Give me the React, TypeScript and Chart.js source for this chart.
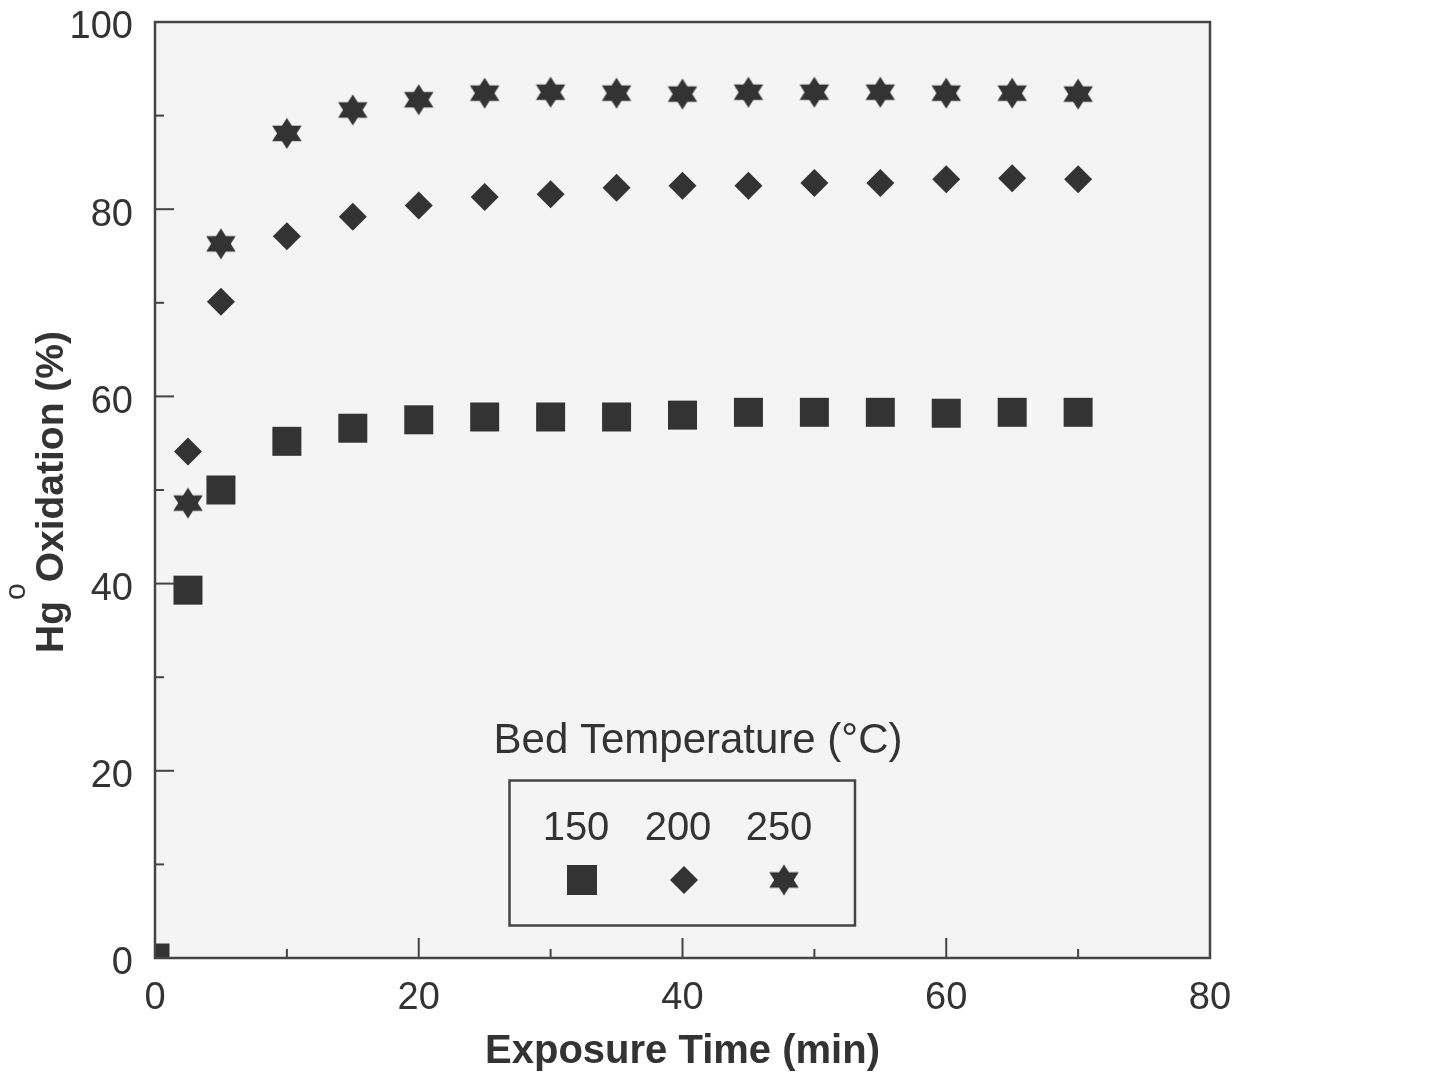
import React, { useEffect, useRef } from 'react';
import { Chart, registerables } from 'chart.js';

Chart.register(...registerables);

// ---- data ----
const timeMin = [2.5, 5, 10, 15, 20, 25, 30, 35, 40, 45, 50, 55, 60, 65, 70];
const ox150 = [39.3, 50.0, 55.2, 56.6, 57.5, 57.8, 57.8, 57.8, 58.0, 58.3, 58.3, 58.3, 58.2, 58.3, 58.3];
const ox200 = [54.1, 70.1, 77.1, 79.2, 80.4, 81.3, 81.6, 82.3, 82.5, 82.5, 82.8, 82.8, 83.2, 83.3, 83.2];
const ox250 = [48.6, 76.3, 88.1, 90.6, 91.7, 92.4, 92.5, 92.4, 92.3, 92.5, 92.5, 92.5, 92.4, 92.4, 92.3];
const start150 = { x: 0, y: 0 };
const seriesLabels = ['150', '200', '250'];
const legendTitle = 'Bed Temperature (°C)';
const xTitle = 'Exposure Time (min)';
const yTitleParts = ['Hg', 'o', 'Oxidation (%)'];
const xTickLabels = [0, 20, 40, 60, 80];
const yTickLabels = [0, 20, 40, 60, 80, 100];

// ---- style ----
const MARK = '#333333';
const AXIS = '#444444';
const TEXT = '#333333';
const FONT = '"Liberation Sans", Arial, Helvetica, sans-serif';

function makeStar(rx: number, ry: number): HTMLCanvasElement {
  const c = document.createElement('canvas');
  const w = Math.ceil(rx * 2) + 2;
  const h = Math.ceil(ry * 2) + 2;
  c.width = w;
  c.height = h;
  const ctx = c.getContext('2d')!;
  ctx.fillStyle = MARK;
  const cx = w / 2;
  const cy = h / 2;
  for (const s of [-90, 90]) {
    ctx.beginPath();
    for (let k = 0; k < 3; k++) {
      const a = ((s + k * 120) * Math.PI) / 180;
      const px = cx + rx * Math.cos(a);
      const py = cy + ry * Math.sin(a);
      if (k === 0) ctx.moveTo(px, py);
      else ctx.lineTo(px, py);
    }
    ctx.closePath();
    ctx.fill();
  }
  return c;
}

export default function App() {
  const ref = useRef<HTMLCanvasElement | null>(null);

  useEffect(() => {
    const canvas = ref.current;
    if (!canvas) return;
    const star = makeStar(17, 15.5);

    const decor = {
      id: 'decor',
      beforeDatasetsDraw(chart: any) {
        const { ctx, chartArea: a } = chart;
        ctx.save();
        ctx.fillStyle = '#f4f4f4';
        ctx.fillRect(a.left, a.top, a.right - a.left, a.bottom - a.top);
        ctx.restore();
      },
      afterDraw(chart: any) {
        const { ctx, chartArea: a } = chart;
        const xs = chart.scales.x;
        const ys = chart.scales.y;
        ctx.save();
        // inward ticks
        ctx.strokeStyle = AXIS;
        ctx.lineWidth = 2;
        ys.ticks.forEach((t: any) => {
          const py = ys.getPixelForValue(t.value);
          const len = yTickLabels.includes(t.value) ? 19 : 9;
          ctx.beginPath();
          ctx.moveTo(a.left, py);
          ctx.lineTo(a.left + len, py);
          ctx.stroke();
        });
        xs.ticks.forEach((t: any) => {
          const px = xs.getPixelForValue(t.value);
          const len = xTickLabels.includes(t.value) ? 20 : 9;
          ctx.beginPath();
          ctx.moveTo(px, a.bottom);
          ctx.lineTo(px, a.bottom - len);
          ctx.stroke();
        });
        // frame
        ctx.lineWidth = 2.5;
        ctx.strokeRect(a.left, a.top, a.right - a.left, a.bottom - a.top);

        // x title
        ctx.fillStyle = TEXT;
        ctx.font = `bold 40px ${FONT}`;
        ctx.textAlign = 'center';
        ctx.textBaseline = 'alphabetic';
        ctx.fillText(xTitle, (a.left + a.right) / 2, 1063);

        // y title with superscript
        const boldF = `bold 39px ${FONT}`;
        const supF = `30px ${FONT}`;
        ctx.font = boldF;
        const w1 = ctx.measureText(yTitleParts[0]).width;
        const w3 = ctx.measureText(yTitleParts[2]).width;
        ctx.font = supF;
        const w2 = ctx.measureText(yTitleParts[1]).width;
        const gap = 1;
        const total = w1 + gap + w2 + gap + w3;
        const cy = (a.top + a.bottom) / 2 + 2;
        ctx.save();
        ctx.translate(63, cy);
        ctx.rotate(-Math.PI / 2);
        ctx.textAlign = 'left';
        let x0 = -total / 2;
        ctx.font = boldF;
        ctx.fillText(yTitleParts[0], x0, 0);
        x0 += w1 + gap;
        ctx.font = supF;
        ctx.fillText(yTitleParts[1], x0, -38);
        x0 += w2 + gap;
        ctx.font = boldF;
        ctx.fillText(yTitleParts[2], x0, 0);
        ctx.restore();

        // legend
        ctx.fillStyle = TEXT;
        ctx.textAlign = 'center';
        ctx.font = `42px ${FONT}`;
        ctx.fillText(legendTitle, 698, 753);
        ctx.strokeStyle = AXIS;
        ctx.lineWidth = 2.5;
        ctx.strokeRect(509.5, 780.5, 345.5, 145);
        ctx.font = `40px ${FONT}`;
        const lx = [576, 678, 779];
        seriesLabels.forEach((s, i) => ctx.fillText(s, lx[i], 840));
        ctx.fillStyle = MARK;
        ctx.fillRect(582 - 15, 880 - 15, 30, 30);
        ctx.beginPath();
        ctx.moveTo(684 - 14, 880);
        ctx.lineTo(684, 880 - 14);
        ctx.lineTo(684 + 14, 880);
        ctx.lineTo(684, 880 + 14);
        ctx.closePath();
        ctx.fill();
        ctx.drawImage(star, 784 - star.width / 2, 880 - star.height / 2);
        ctx.restore();
      },
    };

    const pts = (ys: number[]) => timeMin.map((t, i) => ({ x: t, y: ys[i] }));

    const chart = new Chart(canvas, {
      type: 'scatter',
      data: {
        datasets: [
          {
            label: seriesLabels[0],
            data: [start150, ...pts(ox150)],
            pointStyle: 'rect',
            pointRadius: 20.5,
            pointHoverRadius: 20.5,
            pointBackgroundColor: MARK,
            pointBorderWidth: 0,
            showLine: false,
            clip: 0,
          },
          {
            label: seriesLabels[1],
            data: pts(ox200),
            pointStyle: 'rectRot',
            pointRadius: 14,
            pointHoverRadius: 14,
            pointBackgroundColor: MARK,
            pointBorderWidth: 0,
            showLine: false,
            clip: 0,
          },
          {
            label: seriesLabels[2],
            data: pts(ox250),
            pointStyle: star as any,
            pointRadius: 15,
            pointHoverRadius: 15,
            pointBackgroundColor: MARK,
            pointBorderWidth: 0,
            showLine: false,
            clip: 0,
          },
        ],
      } as any,
      options: {
        animation: false,
        responsive: false,
        maintainAspectRatio: false,
        devicePixelRatio: 1,
        events: [],
        layout: { padding: { top: 22, right: 224, left: 0, bottom: 0 } },
        plugins: { legend: { display: false }, tooltip: { enabled: false } },
        scales: {
          x: {
            type: 'linear',
            min: 0,
            max: 80,
            grid: { display: false, drawTicks: false },
            border: { display: false },
            afterFit: (s: any) => {
              s.height = 119;
              s.paddingLeft = 0;
              s.paddingRight = 0;
              s.paddingTop = 0;
              s.paddingBottom = 0;
            },
            ticks: {
              stepSize: 10,
              autoSkip: false,
              maxRotation: 0,
              padding: 22,
              color: TEXT,
              font: { family: FONT, size: 38, lineHeight: 1 },
              callback: (v: any) => (xTickLabels.includes(v) ? String(v) : ''),
            },
          },
          y: {
            type: 'linear',
            min: 0,
            max: 100,
            grid: { display: false, drawTicks: false },
            border: { display: false },
            afterFit: (s: any) => {
              s.width = 155;
              s.paddingLeft = 0;
              s.paddingRight = 0;
              s.paddingTop = 0;
              s.paddingBottom = 0;
            },
            ticks: {
              stepSize: 10,
              autoSkip: false,
              padding: 22,
              labelOffset: 6,
              color: TEXT,
              font: { family: FONT, size: 38, lineHeight: 1 },
              callback: (v: any) => (yTickLabels.includes(v) ? String(v) : ''),
            },
          },
        },
      } as any,
      plugins: [decor],
    });
    return () => chart.destroy();
  }, []);

  return (
    <div style={{ position: 'fixed', left: 0, top: 0, width: 1434, height: 1077, background: '#ffffff' }}>
      <canvas ref={ref} width={1434} height={1077} style={{ display: 'block', width: 1434, height: 1077 }} />
    </div>
  );
}
